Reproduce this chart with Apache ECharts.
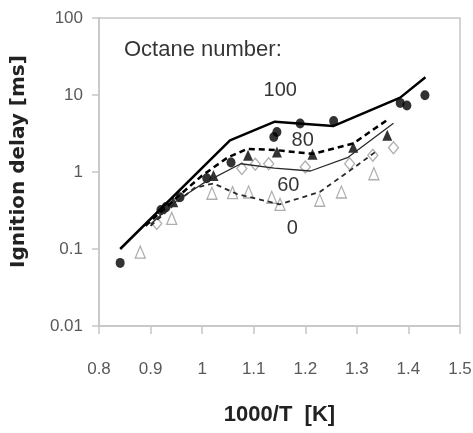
<!DOCTYPE html>
<html>
<head>
<meta charset="utf-8">
<script src="https://cdn.jsdelivr.net/npm/echarts@6/dist/echarts.min.js"></script>
<style>
  html, body { margin: 0; padding: 0; background: #fff; }
  #chart { width: 473px; height: 433px; }
</style>
</head>
<body>
<div id="chart"></div>
<script>
// model curves, [1000/T, delay ms]
const line100 = [[0.841, 0.10], [1.054, 2.58], [1.141, 4.5], [1.254, 3.95], [1.384, 9.25], [1.433, 17]];
const line80 = [[0.89, 0.2], [0.95, 0.46], [1.0, 0.9], [1.05, 1.55], [1.088, 2.0], [1.145, 1.92], [1.215, 1.72], [1.293, 2.35], [1.362, 4.9]];
const line60 = [[0.9, 0.21], [0.95, 0.42], [1.0, 0.7], [1.075, 1.28], [1.14, 1.12], [1.21, 1.03], [1.283, 1.55], [1.371, 4.3]];
const line0 = [[0.9, 0.2], [0.95, 0.4], [0.985, 0.62], [1.022, 0.71], [1.067, 0.52], [1.15, 0.38], [1.228, 0.55], [1.287, 1.05], [1.336, 1.82]];

// measurements
const pts100 = [[0.841, 0.066], [0.92, 0.32], [0.93, 0.35], [0.957, 0.47], [1.009, 0.83], [1.056, 1.33], [1.139, 2.85], [1.145, 3.3], [1.19, 4.26], [1.255, 4.6], [1.384, 7.9], [1.397, 7.3], [1.432, 9.9]];
const pts80 = [[0.944, 0.41], [1.022, 0.9], [1.089, 1.65], [1.145, 1.82], [1.214, 1.7], [1.293, 2.1], [1.359, 3.0]];
const pts60 = [[0.912, 0.214], [1.077, 1.11], [1.103, 1.26], [1.129, 1.28], [1.2, 1.16], [1.286, 1.28], [1.331, 1.65], [1.371, 2.07]];
const pts0 = [[0.88, 0.091], [0.941, 0.25], [1.019, 0.53], [1.059, 0.54], [1.09, 0.55], [1.135, 0.47], [1.151, 0.38], [1.228, 0.43], [1.27, 0.55], [1.333, 0.95]];

// text notes placed in data coords
const noteTexts = ['Octane number:', '100', '80', '60', '0'];
const notePos = [[0.8485, 39], [1.1515, 11.5], [1.195, 2.6], [1.167, 0.67], [1.175, 0.186]];

const gray = '#c6c6c6';
const sans = "'Liberation Sans', Arial, sans-serif";

const chart = echarts.init(document.getElementById('chart'));

const scatter = (data, symbol, size, filled) => ({
  type: 'scatter',
  data,
  symbol,
  symbolSize: size,
  itemStyle: filled
    ? { color: '#000' }
    : { color: '#fff', borderColor: '#9a9a9a', borderWidth: 1.3 },
  z: 2
});

const line = (data, width, type, color) => ({
  type: 'line',
  data,
  showSymbol: false,
  symbol: 'none',
  lineStyle: { color, width, type },
  z: 3
});

chart.setOption({
  animation: false,
  grid: {
    left: 99, right: 13, top: 18, bottom: 107,
    show: true, borderColor: gray, borderWidth: 1.5,
    outerBoundsMode: 'none'
  },
  xAxis: {
    type: 'value',
    min: 0.8, max: 1.5, interval: 0.1,
    name: '1000/T  [K]',
    nameLocation: 'middle',
    nameGap: 78,
    nameTextStyle: { fontFamily: sans, fontSize: 22, fontWeight: 'bold', color: '#222' },
    axisLine: { lineStyle: { color: gray, width: 1.5 } },
    axisTick: { length: 8, lineStyle: { color: gray, width: 1.5 } },
    axisLabel: { margin: 35, fontFamily: sans, fontSize: 17, color: '#595959' },
    splitLine: { show: false }
  },
  yAxis: {
    type: 'log',
    logBase: 10,
    min: 0.01, max: 100,
    name: '   Ignition delay [ms]',
    nameLocation: 'middle',
    nameGap: 70,
    nameTextStyle: { fontFamily: 'DejaVu Sans', fontSize: 20, fontWeight: 'bold', color: '#222' },
    axisLine: { show: true, lineStyle: { color: gray, width: 1.5 } },
    axisTick: { show: true, length: 7, lineStyle: { color: gray, width: 1.5 } },
    axisLabel: {
      margin: 16, fontFamily: sans, fontSize: 17, color: '#595959',
      formatter: (v) => String(+v.toPrecision(3))
    },
    splitLine: { show: false },
    minorTick: { show: false }
  },
  series: [
    scatter(pts0, 'triangle', [10, 12], false),
    scatter(pts60, 'diamond', [10, 12], false),
    line(line0, 1.8, [5, 4], '#2a2a2a'),
    line(line60, 1.3, 'solid', '#2a2a2a'),
    line(line80, 2.5, [6, 4], '#000'),
    line(line100, 2.5, 'solid', '#000'),
    scatter(pts80, 'triangle', [10, 11], true),
    scatter(pts100, 'circle', [9, 10], true),
    {
      type: 'scatter',
      symbolSize: 0,
      silent: true,
      z: 5,
      data: notePos.map((p, i) => ({
        value: p,
        label: {
          show: true,
          formatter: noteTexts[i],
          position: i === 0 ? 'right' : 'inside',
          distance: 0,
          fontFamily: sans,
          fontSize: i === 0 ? 22 : 20,
          color: '#000'
        }
      }))
    }
  ]
});
</script>
</body>
</html>
